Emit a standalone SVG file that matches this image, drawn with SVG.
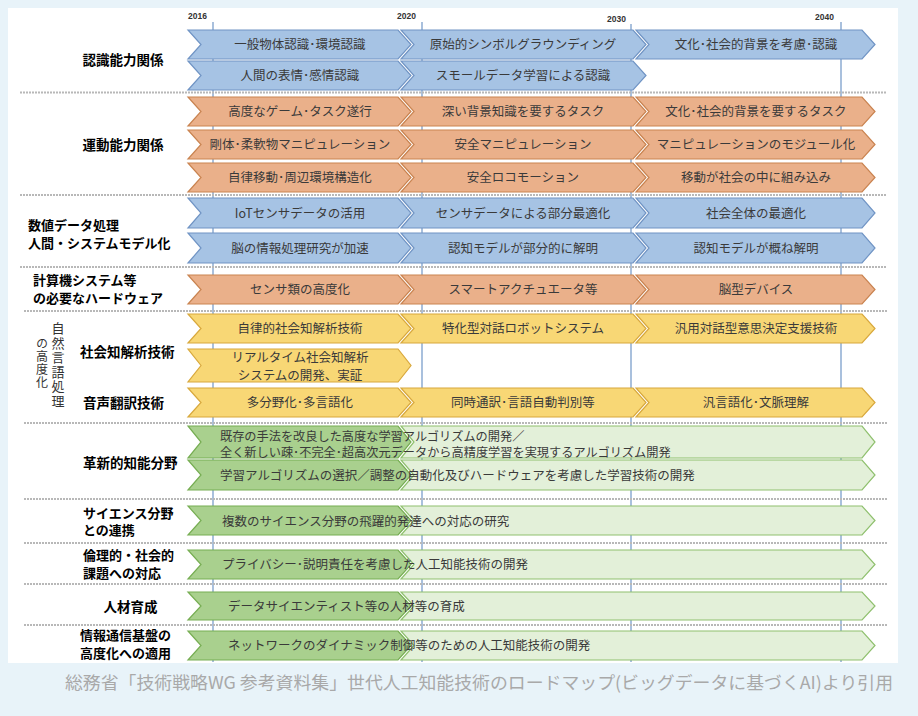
<svg xmlns="http://www.w3.org/2000/svg" width="918" height="716" viewBox="0 0 918 716">
<style>
.bg{fill:#e8f3f9}
.panel{fill:#ffffff}
.grid{stroke:#7096c6;stroke-width:1.2}
.sep{stroke:#b8b8b8;stroke-width:2;stroke-dasharray:2 1}
.blue{fill:#a6c3e4;stroke:#7094c4;stroke-width:1.2}
.orange{fill:#eab08a;stroke:#c98350;stroke-width:1.2}
.yellow{fill:#f8d775;stroke:#d8a83c;stroke-width:1.2}
.green{fill:#a9d08e;stroke:#76ad52;stroke-width:1.2}
.lgreen{fill:#e3f0d9;stroke:#8fc06e;stroke-width:1.2}
.t{font-family:"Noto Sans CJK JP","Noto Sans",sans-serif;font-size:12.5px;fill:#3a3a3a;text-anchor:middle}
.tl{font-family:"Noto Sans CJK JP","Noto Sans",sans-serif;font-size:12.5px;fill:#3a3a3a}
.tl2{font-family:"Noto Sans CJK JP","Noto Sans",sans-serif;font-size:12.2px;fill:#3a3a3a}
.lbl{font-family:"Noto Sans CJK JP","Noto Sans",sans-serif;font-size:13.5px;font-weight:bold;fill:#000}
.lbl2{font-family:"Noto Sans CJK JP","Noto Sans",sans-serif;font-size:13px;font-weight:bold;fill:#000}
.vt{font-family:"Noto Sans CJK JP","Noto Sans",sans-serif;fill:#333;writing-mode:vertical-rl}
.yr{font-family:"Liberation Sans",sans-serif;font-size:8.5px;font-weight:bold;fill:#333}
.cap{font-family:"Noto Sans CJK JP","Noto Sans",sans-serif;font-size:17.5px;fill:#a9a9a9}
</style>
<rect class="bg" x="0" y="0" width="918" height="716"/>
<rect class="panel" x="8" y="8" width="890" height="655"/>

<g id="years">
<text class="yr" x="188" y="19">2016</text>
<text class="yr" x="397" y="19">2020</text>
<text class="yr" x="607" y="22">2030</text>
<text class="yr" x="815" y="20">2040</text>
</g>

<g id="connectors">
<line class="grid" x1="213" y1="22" x2="213" y2="662"/>
<line class="grid" x1="422" y1="22" x2="422" y2="662"/>
<line class="grid" x1="631" y1="24" x2="631" y2="662"/>
<line class="grid" x1="841" y1="22" x2="841" y2="662"/>
</g>

<g id="separators">
<line class="sep" x1="20" y1="92.5" x2="887" y2="92.5"/>
<line class="sep" x1="20" y1="195" x2="887" y2="195"/>
<line class="sep" x1="20" y1="267" x2="887" y2="267"/>
<line class="sep" x1="24" y1="311" x2="887" y2="311"/>
<line class="sep" x1="24" y1="423" x2="887" y2="423"/>
<line class="sep" x1="24" y1="499" x2="887" y2="499"/>
<line class="sep" x1="24" y1="543" x2="887" y2="543"/>
<line class="sep" x1="24" y1="584" x2="887" y2="584"/>
<line class="sep" x1="24" y1="625" x2="887" y2="625"/>
</g>

<g id="labels">
<text class="lbl" x="123" y="64.5" text-anchor="middle">認識能力関係</text>
<text class="lbl" x="123" y="149.5" text-anchor="middle">運動能力関係</text>
<text class="lbl2" x="28" y="230">数値データ処理</text>
<text class="lbl2" x="28" y="247.5">人間・システムモデル化</text>
<text class="lbl2" x="33" y="285">計算機システム等</text>
<text class="lbl2" x="33" y="302.5">の必要なハードウェア</text>
<text class="vt" x="58" y="322" style="font-size:13px;letter-spacing:1.5px">自然言語処理</text>
<text class="vt" x="42" y="337" style="font-size:12px;letter-spacing:1px">の高度化</text>
<text class="lbl" x="80" y="356.5">社会知解析技術</text>
<text class="lbl" x="83" y="407.5">音声翻訳技術</text>
<text class="lbl" x="83" y="467.5">革新的知能分野</text>
<text class="lbl2" x="83" y="517.5">サイエンス分野</text>
<text class="lbl2" x="83" y="535">との連携</text>
<text class="lbl2" x="83" y="560">倫理的・社会的</text>
<text class="lbl2" x="83" y="577.5">課題への対応</text>
<text class="lbl" x="130.5" y="611.5" text-anchor="middle">人材育成</text>
<text class="lbl2" x="80" y="640">情報通信基盤の</text>
<text class="lbl2" x="80" y="657.5">高度化への適用</text>
</g>

<!-- Row 1 -->
<g id="r1a"><path class="blue" d="M188,30 H398 L411,44.5 L398,59 H188 L201,44.5 Z"/><text class="t" x="300" y="49">一般物体認識･環境認識</text></g>
<g id="r1b"><path class="blue" d="M401,30 H633 L646,44.5 L633,59 H401 L414,44.5 Z"/><text class="t" x="523" y="49">原始的シンボルグラウンディング</text></g>
<g id="r1c"><path class="blue" d="M636,30 H862 L875,44.5 L862,59 H636 L649,44.5 Z"/><text class="t" x="756" y="49">文化･社会的背景を考慮･認識</text></g>
<!-- Row 2 -->
<g id="r2a"><path class="blue" d="M188,61 H398 L411,75.5 L398,90 H188 L201,75.5 Z"/><text class="t" x="300" y="80">人間の表情･感情認識</text></g>
<g id="r2b"><path class="blue" d="M401,61 H633 L646,75.5 L633,90 H401 L414,75.5 Z"/><text class="t" x="523" y="80">スモールデータ学習による認識</text></g>
<!-- Row 3 -->
<g id="r3a"><path class="orange" d="M188,97 H398 L411,111.5 L398,126 H188 L201,111.5 Z"/><text class="t" x="300" y="116">高度なゲーム･タスク遂行</text></g>
<g id="r3b"><path class="orange" d="M401,97 H633 L646,111.5 L633,126 H401 L414,111.5 Z"/><text class="t" x="523" y="116">深い背景知識を要するタスク</text></g>
<g id="r3c"><path class="orange" d="M636,97 H862 L875,111.5 L862,126 H636 L649,111.5 Z"/><text class="t" x="756" y="116">文化･社会的背景を要するタスク</text></g>
<!-- Row 4 -->
<g id="r4a"><path class="orange" d="M188,130 H398 L411,144.5 L398,159 H188 L201,144.5 Z"/><text class="t" x="300" y="149">剛体･柔軟物マニピュレーション</text></g>
<g id="r4b"><path class="orange" d="M401,130 H633 L646,144.5 L633,159 H401 L414,144.5 Z"/><text class="t" x="523" y="149">安全マニピュレーション</text></g>
<g id="r4c"><path class="orange" d="M636,130 H862 L875,144.5 L862,159 H636 L649,144.5 Z"/><text class="t" x="756" y="149">マニピュレーションのモジュール化</text></g>
<!-- Row 5 -->
<g id="r5a"><path class="orange" d="M188,163 H398 L411,177.5 L398,192 H188 L201,177.5 Z"/><text class="t" x="300" y="182">自律移動･周辺環境構造化</text></g>
<g id="r5b"><path class="orange" d="M401,163 H633 L646,177.5 L633,192 H401 L414,177.5 Z"/><text class="t" x="523" y="182">安全ロコモーション</text></g>
<g id="r5c"><path class="orange" d="M636,163 H862 L875,177.5 L862,192 H636 L649,177.5 Z"/><text class="t" x="756" y="182">移動が社会の中に組み込み</text></g>
<!-- Row 6 -->
<g id="r6a"><path class="blue" d="M188,198 H398 L411,213 L398,228 H188 L201,213 Z"/><text class="t" x="300" y="217.5">IoTセンサデータの活用</text></g>
<g id="r6b"><path class="blue" d="M401,198 H633 L646,213 L633,228 H401 L414,213 Z"/><text class="t" x="523" y="217.5">センサデータによる部分最適化</text></g>
<g id="r6c"><path class="blue" d="M636,198 H862 L875,213 L862,228 H636 L649,213 Z"/><text class="t" x="756" y="217.5">社会全体の最適化</text></g>
<!-- Row 7 -->
<g id="r7a"><path class="blue" d="M188,233 H398 L411,248 L398,263 H188 L201,248 Z"/><text class="t" x="300" y="252.5">脳の情報処理研究が加速</text></g>
<g id="r7b"><path class="blue" d="M401,233 H633 L646,248 L633,263 H401 L414,248 Z"/><text class="t" x="523" y="252.5">認知モデルが部分的に解明</text></g>
<g id="r7c"><path class="blue" d="M636,233 H862 L875,248 L862,263 H636 L649,248 Z"/><text class="t" x="756" y="252.5">認知モデルが概ね解明</text></g>
<!-- Row 8 -->
<g id="r8a"><path class="orange" d="M188,275 H398 L411,289.5 L398,304 H188 L201,289.5 Z"/><text class="t" x="300" y="294">センサ類の高度化</text></g>
<g id="r8b"><path class="orange" d="M401,275 H633 L646,289.5 L633,304 H401 L414,289.5 Z"/><text class="t" x="523" y="294">スマートアクチュエータ等</text></g>
<g id="r8c"><path class="orange" d="M636,275 H862 L875,289.5 L862,304 H636 L649,289.5 Z"/><text class="t" x="756" y="294">脳型デバイス</text></g>
<!-- Row 9 -->
<g id="r9a"><path class="yellow" d="M188,314 H398 L411,328.5 L398,343 H188 L201,328.5 Z"/><text class="t" x="300" y="333">自律的社会知解析技術</text></g>
<g id="r9b"><path class="yellow" d="M401,314 H633 L646,328.5 L633,343 H401 L414,328.5 Z"/><text class="t" x="523" y="333">特化型対話ロボットシステム</text></g>
<g id="r9c"><path class="yellow" d="M636,314 H862 L875,328.5 L862,343 H636 L649,328.5 Z"/><text class="t" x="756" y="333">汎用対話型意思決定支援技術</text></g>
<!-- Row 10 -->
<g id="r10a"><path class="yellow" d="M188,349 H398 L411,365.5 L398,382 H188 L201,365.5 Z"/><text class="t" x="300" y="361.5">リアルタイム社会知解析</text><text class="t" x="300" y="379.5">システムの開発、実証</text></g>
<!-- Row 11 -->
<g id="r11a"><path class="yellow" d="M188,388 H398 L411,402.5 L398,417 H188 L201,402.5 Z"/><text class="t" x="300" y="407">多分野化･多言語化</text></g>
<g id="r11b"><path class="yellow" d="M401,388 H633 L646,402.5 L633,417 H401 L414,402.5 Z"/><text class="t" x="523" y="407">同時通訳･言語自動判別等</text></g>
<g id="r11c"><path class="yellow" d="M636,388 H862 L875,402.5 L862,417 H636 L649,402.5 Z"/><text class="t" x="756" y="407">汎言語化･文脈理解</text></g>
<!-- Row 12 -->
<g id="r12"><path class="green" d="M188,426 H398 L411,442 L398,458 H188 L201,442 Z"/><path class="lgreen" d="M401,426 H862 L875,442 L862,458 H401 L414,442 Z"/><text class="tl2" x="220" y="440.5">既存の手法を改良した高度な学習アルゴリズムの開発／</text><text class="tl2" x="220" y="457">全く新しい疎･不完全･超高次元データから高精度学習を実現するアルゴリズム開発</text></g>
<!-- Row 13 -->
<g id="r13"><path class="green" d="M188,460 H398 L411,475 L398,490 H188 L201,475 Z"/><path class="lgreen" d="M401,460 H862 L875,475 L862,490 H401 L414,475 Z"/><text class="tl" x="220" y="479.5">学習アルゴリズムの選択／調整の自動化及びハードウェアを考慮した学習技術の開発</text></g>
<!-- Row 14 -->
<g id="r14"><path class="green" d="M188,506 H398 L411,520.5 L398,535 H188 L201,520.5 Z"/><path class="lgreen" d="M401,506 H862 L875,520.5 L862,535 H401 L414,520.5 Z"/><text class="tl" x="222" y="526">複数のサイエンス分野の飛躍的発達への対応の研究</text></g>
<!-- Row 15 -->
<g id="r15"><path class="green" d="M188,550 H398 L411,564.5 L398,579 H188 L201,564.5 Z"/><path class="lgreen" d="M401,550 H862 L875,564.5 L862,579 H401 L414,564.5 Z"/><text class="tl" x="222" y="569">プライバシー･説明責任を考慮した人工知能技術の開発</text></g>
<!-- Row 16 -->
<g id="r16"><path class="green" d="M188,592 H398 L411,606 L398,620 H188 L201,606 Z"/><path class="lgreen" d="M401,592 H862 L875,606 L862,620 H401 L414,606 Z"/><text class="tl" x="228" y="611">データサイエンティスト等の人材等の育成</text></g>
<!-- Row 17 -->
<g id="r17"><path class="green" d="M188,631 H398 L411,645.5 L398,660 H188 L201,645.5 Z"/><path class="lgreen" d="M401,631 H862 L875,645.5 L862,660 H401 L414,645.5 Z"/><text class="tl" x="228" y="650">ネットワークのダイナミック制御等のための人工知能技術の開発</text></g>

<text class="cap" x="65" y="689" textLength="828" lengthAdjust="spacingAndGlyphs">総務省「技術戦略WG 参考資料集」世代人工知能技術のロードマップ(ビッグデータに基づくAI)より引用</text>
</svg>
